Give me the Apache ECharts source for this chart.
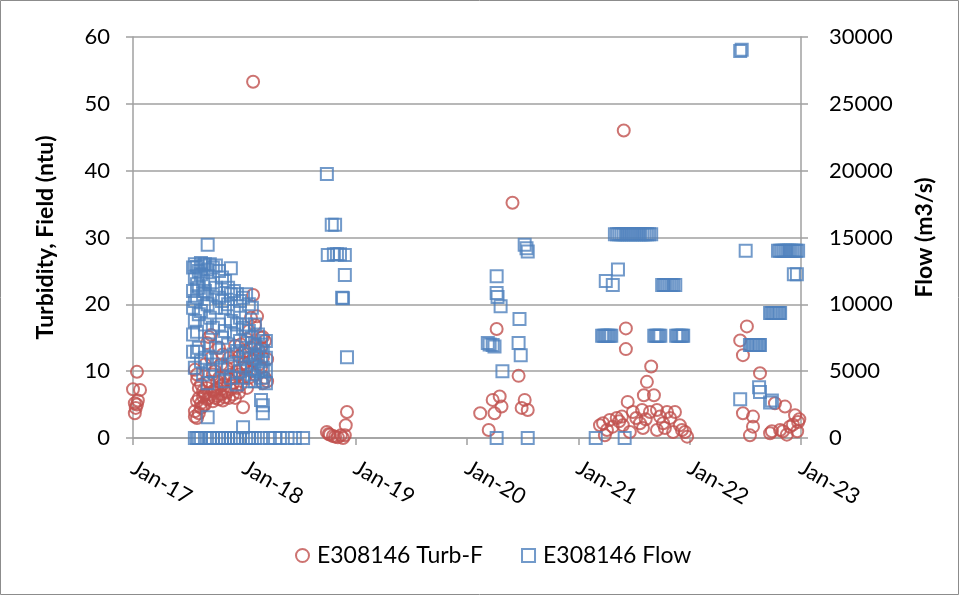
<!DOCTYPE html>
<html>
<head>
  <meta charset="utf-8">
  <title>E308146 Turbidity and Flow</title>
  <script src="https://cdn.jsdelivr.net/npm/echarts@6/dist/echarts.min.js"></script>
  <style>
    html, body { margin: 0; padding: 0; background: #fff; }
    #main { width: 961px; height: 596px; }
  </style>
</head>
<body>
<div id="main"></div>
<script>
// x tick labels (one per year)
var xLabels = ['Jan-17', 'Jan-18', 'Jan-19', 'Jan-20', 'Jan-21', 'Jan-22', 'Jan-23'];

// Turbidity, field (ntu)
var turbJan2017 = [
  ['2017-01-01', 7.3], ['2017-01-07', 5.2], ['2017-01-07', 3.7], ['2017-01-10', 4.5],
  ['2017-01-14', 9.9], ['2017-01-14', 5.0], ['2017-01-17', 5.6], ['2017-01-24', 7.2]
];
var turb2017 = [
  ['2017-07-23', 3.2], ['2017-07-23', 4.0], ['2017-07-23', 10.2],
  ['2017-07-30', 3.0], ['2017-07-30', 5.5], ['2017-07-30', 9.5], ['2017-07-30', 8.7],
  ['2017-08-05', 3.7], ['2017-08-05', 6.0], ['2017-08-05', 7.5],
  ['2017-08-12', 4.5], ['2017-08-12', 5.2], ['2017-08-12', 8.0],
  ['2017-08-19', 6.2], ['2017-08-19', 7.0], ['2017-08-19', 4.8],
  ['2017-08-25', 6.5], ['2017-08-25', 5.0], ['2017-08-25', 11.0],
  ['2017-09-01', 14.2], ['2017-09-01', 7.5], ['2017-09-01', 5.8],
  ['2017-09-07', 15.1], ['2017-09-07', 6.0], ['2017-09-07', 8.4],
  ['2017-09-14', 15.4], ['2017-09-14', 12.0], ['2017-09-14', 6.5],
  ['2017-09-20', 7.0], ['2017-09-20', 9.5], ['2017-09-20', 5.5],
  ['2017-09-27', 7.2], ['2017-09-27', 6.0], ['2017-09-27', 10.0],
  ['2017-10-04', 6.3], ['2017-10-04', 8.5], ['2017-10-04', 7.5],
  ['2017-10-10', 5.8], ['2017-10-10', 9.0], ['2017-10-10', 13.5],
  ['2017-10-17', 6.5], ['2017-10-17', 7.8], ['2017-10-17', 11.0],
  ['2017-10-23', 5.6], ['2017-10-23', 8.0], ['2017-10-23', 12.5],
  ['2017-10-30', 6.1], ['2017-10-30', 9.2], ['2017-10-30', 7.0],
  ['2017-11-05', 6.8], ['2017-11-05', 10.5],
  ['2017-11-12', 6.0], ['2017-11-12', 8.8], ['2017-11-12', 12.0],
  ['2017-11-18', 7.3], ['2017-11-18', 9.5],
  ['2017-11-25', 6.5], ['2017-11-25', 8.2], ['2017-11-25', 11.5],
  ['2017-12-02', 6.0], ['2017-12-02', 9.0], ['2017-12-02', 13.8],
  ['2017-12-08', 7.5], ['2017-12-08', 10.0],
  ['2017-12-15', 6.8], ['2017-12-15', 12.2], ['2017-12-15', 9.5],
  ['2017-12-21', 8.0], ['2017-12-21', 14.0],
  ['2017-12-28', 4.6], ['2017-12-28', 10.5], ['2017-12-28', 12.8],
  ['2018-01-03', 9.0], ['2018-01-03', 13.0], ['2018-01-03', 11.2],
  ['2018-01-10', 10.5], ['2018-01-10', 14.8], ['2018-01-10', 7.5],
  ['2018-01-16', 12.0], ['2018-01-16', 16.0], ['2018-01-16', 9.0],
  ['2018-01-23', 13.5], ['2018-01-23', 10.0], ['2018-01-23', 18.0],
  ['2018-01-30', 21.4], ['2018-01-30', 53.3], ['2018-01-30', 11.5],
  ['2018-02-05', 16.9], ['2018-02-05', 14.0], ['2018-02-05', 9.5],
  ['2018-02-12', 18.2], ['2018-02-12', 12.5],
  ['2018-02-18', 13.2], ['2018-02-18', 11.0],
  ['2018-02-25', 15.0], ['2018-02-25', 10.5], ['2018-02-25', 13.5],
  ['2018-03-03', 8.2], ['2018-03-03', 12.0], ['2018-03-03', 15.1],
  ['2018-03-10', 9.0], ['2018-03-10', 14.5],
  ['2018-03-17', 8.5], ['2018-03-17', 11.8]
];
var turb2018 = [
  ['2018-09-29', 0.9], ['2018-10-05', 0.6], ['2018-10-09', 0.5], ['2018-10-19', 0.3],
  ['2018-10-26', 0.2], ['2018-11-04', 0.1], ['2018-11-14', 0.4], ['2018-11-21', 0.0],
  ['2018-11-27', 0.4], ['2018-11-30', 1.9], ['2018-12-04', 3.9]
];
var turb2020 = [
  ['2020-02-14', 3.7], ['2020-03-13', 1.2], ['2020-03-26', 5.7], ['2020-04-01', 3.7],
  ['2020-04-08', 16.3], ['2020-04-18', 6.2], ['2020-04-24', 4.7], ['2020-05-30', 35.2],
  ['2020-06-19', 9.3], ['2020-06-29', 4.5], ['2020-07-09', 5.7], ['2020-07-19', 4.2]
];
var turb2021 = [
  ['2021-03-13', 1.9], ['2021-03-23', 2.2], ['2021-03-29', 0.4], ['2021-04-05', 1.2],
  ['2021-04-14', 2.7], ['2021-04-24', 1.7], ['2021-05-07', 3.0], ['2021-05-15', 2.5],
  ['2021-05-24', 3.2], ['2021-05-27', 1.9], ['2021-05-30', 46.0], ['2021-06-06', 16.4],
  ['2021-06-06', 13.3], ['2021-06-12', 5.4], ['2021-06-19', 0.9], ['2021-06-29', 3.9],
  ['2021-07-10', 3.0], ['2021-07-22', 2.2], ['2021-07-29', 4.2], ['2021-08-01', 1.5],
  ['2021-08-04', 6.4], ['2021-08-10', 2.8], ['2021-08-14', 8.4], ['2021-08-24', 3.9],
  ['2021-08-28', 10.7], ['2021-09-06', 6.4], ['2021-09-16', 4.2], ['2021-09-16', 1.2],
  ['2021-09-26', 3.2], ['2021-10-06', 2.2], ['2021-10-12', 1.5], ['2021-10-19', 3.9],
  ['2021-10-29', 3.0], ['2021-11-08', 0.9], ['2021-11-14', 3.9], ['2021-11-30', 1.9],
  ['2021-12-07', 1.2], ['2021-12-17', 0.9], ['2021-12-24', 0.2]
];
var turb2022 = [
  ['2022-06-16', 14.6], ['2022-06-25', 12.4], ['2022-06-25', 3.7], ['2022-07-08', 16.7],
  ['2022-07-18', 0.4], ['2022-07-28', 3.2], ['2022-07-28', 1.7], ['2022-08-20', 9.7],
  ['2022-09-22', 0.7], ['2022-09-28', 1.0], ['2022-10-08', 5.2], ['2022-10-25', 1.2],
  ['2022-11-03', 1.0], ['2022-11-10', 4.7], ['2022-11-16', 0.5], ['2022-11-26', 1.7],
  ['2022-12-06', 2.0], ['2022-12-13', 3.4], ['2022-12-20', 1.0], ['2022-12-23', 2.4],
  ['2022-12-27', 2.8]
];

// Flow (m3/s)
var flow2017 = [
  ['2017-07-17', 12750], ['2017-07-17', 11000], ['2017-07-17', 9750], ['2017-07-17', 7750], ['2017-07-17', 6450],
  ['2017-07-23', 13000], ['2017-07-23', 12000], ['2017-07-23', 10250], ['2017-07-23', 8750], ['2017-07-23', 5250], ['2017-07-23', 0],
  ['2017-07-30', 12800], ['2017-07-30', 11500], ['2017-07-30', 10500], ['2017-07-30', 7950], ['2017-07-30', 6450], ['2017-07-30', 0],
  ['2017-08-05', 12500], ['2017-08-05', 11250], ['2017-08-05', 9250], ['2017-08-05', 6750], ['2017-08-05', 0],
  ['2017-08-12', 13100], ['2017-08-12', 12250], ['2017-08-12', 9500], ['2017-08-12', 5750], ['2017-08-12', 0],
  ['2017-08-19', 12900], ['2017-08-19', 11750], ['2017-08-19', 10750], ['2017-08-19', 4750],
  ['2017-08-25', 13000], ['2017-08-25', 11000], ['2017-08-25', 8500], ['2017-08-25', 6000], ['2017-08-25', 0],
  ['2017-09-03', 14450], ['2017-09-03', 12600], ['2017-09-03', 10000], ['2017-09-03', 4100], ['2017-09-03', 1550],
  ['2017-09-10', 13000], ['2017-09-10', 11500], ['2017-09-10', 9000], ['2017-09-10', 7000], ['2017-09-10', 5000], ['2017-09-10', 0],
  ['2017-09-20', 12750], ['2017-09-20', 10750], ['2017-09-20', 8250], ['2017-09-20', 5500], ['2017-09-20', 0],
  ['2017-09-30', 12900], ['2017-09-30', 11250], ['2017-09-30', 9750], ['2017-09-30', 6750],
  ['2017-10-10', 12500], ['2017-10-10', 10500], ['2017-10-10', 8500], ['2017-10-10', 6000], ['2017-10-10', 0],
  ['2017-10-20', 12000], ['2017-10-20', 10250], ['2017-10-20', 7500], ['2017-10-20', 5250], ['2017-10-20', 0],
  ['2017-10-30', 11750], ['2017-10-30', 9750], ['2017-10-30', 8000], ['2017-10-30', 4250], ['2017-10-30', 0],
  ['2017-11-09', 11250], ['2017-11-09', 10000], ['2017-11-09', 7000], ['2017-11-09', 5500], ['2017-11-09', 0],
  ['2017-11-18', 12700], ['2017-11-18', 10750], ['2017-11-18', 8750], ['2017-11-18', 4500], ['2017-11-18', 0],
  ['2017-11-28', 11000], ['2017-11-28', 9500], ['2017-11-28', 7750], ['2017-11-28', 6250], ['2017-11-28', 0],
  ['2017-12-08', 10750], ['2017-12-08', 8500], ['2017-12-08', 6500], ['2017-12-08', 4000], ['2017-12-08', 0],
  ['2017-12-18', 10250], ['2017-12-18', 9000], ['2017-12-18', 7250], ['2017-12-18', 5000], ['2017-12-18', 0],
  ['2017-12-28', 10500], ['2017-12-28', 8250], ['2017-12-28', 6000], ['2017-12-28', 4500], ['2017-12-28', 800],
  ['2018-01-07', 10750], ['2018-01-07', 8500], ['2018-01-07', 6750], ['2018-01-07', 5250], ['2018-01-07', 0],
  ['2018-01-16', 10000], ['2018-01-16', 8000], ['2018-01-16', 6250], ['2018-01-16', 4250], ['2018-01-16', 0],
  ['2018-01-26', 9750], ['2018-01-26', 7500], ['2018-01-26', 5500], ['2018-01-26', 4750], ['2018-01-26', 0],
  ['2018-02-05', 8500], ['2018-02-05', 7000], ['2018-02-05', 6000], ['2018-02-05', 4250], ['2018-02-05', 0],
  ['2018-02-15', 7750], ['2018-02-15', 6250], ['2018-02-15', 5000],
  ['2018-02-25', 7000], ['2018-02-25', 5750], ['2018-02-25', 4500], ['2018-02-25', 2850], ['2018-02-25', 0],
  ['2018-03-03', 6500], ['2018-03-03', 5250], ['2018-03-03', 4250], ['2018-03-03', 1850], ['2018-03-03', 2450],
  ['2018-03-13', 7250], ['2018-03-13', 6000], ['2018-03-13', 5000], ['2018-03-13', 4100],
  ['2018-03-26', 0], ['2018-04-12', 0], ['2018-04-28', 0], ['2018-05-23', 0], ['2018-06-16', 0], ['2018-07-13', 0]
];
var flow2018 = [
  ['2018-09-29', 19750], ['2018-10-02', 13700], ['2018-10-15', 15950], ['2018-10-22', 13750],
  ['2018-10-26', 15950], ['2018-11-01', 13750], ['2018-11-11', 13750], ['2018-11-18', 10500],
  ['2018-11-21', 10450], ['2018-11-27', 13700], ['2018-11-27', 12200], ['2018-12-04', 6050]
];
var flow2020 = [
  ['2020-03-10', 7100], ['2020-03-16', 7000], ['2020-03-26', 6950], ['2020-04-01', 6850],
  ['2020-04-08', 12100], ['2020-04-08', 10850], ['2020-04-08', 0], ['2020-04-11', 10550],
  ['2020-04-21', 9850], ['2020-04-27', 5000], ['2020-06-19', 7100], ['2020-06-22', 8900],
  ['2020-06-26', 6200], ['2020-07-09', 14450], ['2020-07-15', 14200], ['2020-07-19', 13950],
  ['2020-07-19', 0]
];
var flow2021 = [
  ['2021-02-27', 0],
  ['2021-03-20', 7650], ['2021-03-25', 7650], ['2021-03-30', 7650], ['2021-04-04', 7650],
  ['2021-04-09', 7650], ['2021-04-14', 7650], ['2021-04-19', 7650],
  ['2021-04-01', 11750], ['2021-04-24', 11450], ['2021-05-11', 12600],
  ['2021-05-01', 15250], ['2021-05-08', 15250], ['2021-05-15', 15250], ['2021-05-22', 15250],
  ['2021-05-29', 15250], ['2021-06-05', 15250], ['2021-06-12', 15250], ['2021-06-19', 15250],
  ['2021-06-26', 15250], ['2021-07-03', 15250], ['2021-07-10', 15250], ['2021-07-17', 15250],
  ['2021-07-24', 15250], ['2021-07-31', 15250], ['2021-08-07', 15250], ['2021-08-14', 15250],
  ['2021-08-21', 15250], ['2021-08-28', 15250],
  ['2021-06-02', 0],
  ['2021-09-07', 7650], ['2021-09-12', 7650], ['2021-09-17', 7650], ['2021-09-22', 7650], ['2021-09-27', 7650],
  ['2021-10-03', 11450], ['2021-10-09', 11450], ['2021-10-15', 11450], ['2021-10-21', 11450],
  ['2021-10-27', 11450], ['2021-11-02', 11450], ['2021-11-08', 11450], ['2021-11-15', 11450],
  ['2021-11-18', 7650], ['2021-11-23', 7650], ['2021-11-28', 7650], ['2021-12-03', 7650],
  ['2021-12-08', 7650], ['2021-12-11', 7650]
];
var flow2022 = [
  ['2022-06-16', 28950], ['2022-06-21', 29050], ['2022-06-16', 2900], ['2022-07-04', 14000],
  ['2022-07-18', 6950], ['2022-07-23', 6950], ['2022-07-28', 6950], ['2022-08-02', 6950],
  ['2022-08-07', 6950], ['2022-08-12', 6950], ['2022-08-17', 6950], ['2022-08-20', 6950],
  ['2022-08-17', 3800], ['2022-08-20', 3450], ['2022-09-22', 2650], ['2022-09-28', 2800],
  ['2022-09-22', 9350], ['2022-09-27', 9350], ['2022-10-02', 9350], ['2022-10-07', 9350],
  ['2022-10-12', 9350], ['2022-10-17', 9350], ['2022-10-22', 9350], ['2022-10-25', 9350],
  ['2022-10-18', 14000], ['2022-10-24', 14000], ['2022-10-30', 14000], ['2022-11-05', 14000],
  ['2022-11-11', 14000], ['2022-11-17', 14000], ['2022-11-23', 14000], ['2022-11-29', 14000],
  ['2022-12-05', 14000], ['2022-12-11', 14000], ['2022-12-17', 14000], ['2022-12-23', 14000],
  ['2022-12-09', 12250], ['2022-12-19', 12250]
];

var t0 = Date.UTC(2017, 0, 1);
function toDays(list) {
  return list.map(function (p) {
    return [(Date.parse(p[0]) - t0) / 86400000, p[1]];
  });
}

var turbData = toDays([].concat(turbJan2017, turb2017, turb2018, turb2020, turb2021, turb2022));
var flowData = toDays([].concat(flow2017, flow2018, flow2020, flow2021, flow2022));

var RED = '#C0504D', BLUE = '#4F81BD', GRID = '#A0A0A0';
var FONT = 'Lato';

var myChart = echarts.init(document.getElementById('main'));
var option = {
  backgroundColor: '#fff',
  animation: false,
  textStyle: { fontFamily: FONT },
  graphic: [{
    type: 'rect',
    shape: { x: 0.5, y: 0.5, width: 958, height: 594 },
    style: { fill: 'none', stroke: '#8c8c8c', lineWidth: 1 },
    silent: true
  }],
  grid: { left: 133, right: 160, top: 37, bottom: 158 },
  legend: {
    bottom: 24,
    left: 290,
    itemGap: 38,
    itemWidth: 13,
    itemHeight: 13,
    textStyle: { fontFamily: FONT, fontSize: 23, color: '#000', padding: [0, 0, 0, 3] },
    data: [
      { name: 'E308146 Turb-F', icon: 'circle', itemStyle: { color: 'rgba(0,0,0,0)', borderColor: RED, borderWidth: 2 } },
      { name: 'E308146 Flow', icon: 'rect', itemStyle: { color: 'rgba(0,0,0,0)', borderColor: BLUE, borderWidth: 2 } }
    ]
  },
  xAxis: {
    type: 'value',
    min: 0,
    max: 2191.5,
    interval: 365.25,
    splitLine: { show: false },
    axisLine: { show: true, lineStyle: { color: GRID, width: 1.5 } },
    axisTick: { show: true, length: 7, lineStyle: { color: GRID, width: 1.5 } },
    axisLabel: {
      rotate: -30,
      margin: 28,
      fontFamily: FONT,
      fontSize: 22,
      color: '#000',
      formatter: function (v) { return xLabels[Math.round(v / 365.25)]; }
    }
  },
  yAxis: [{
    type: 'value',
    min: 0,
    max: 60,
    interval: 10,
    name: 'Turbidity, Field (ntu)',
    nameLocation: 'middle',
    nameGap: 76,
    nameTextStyle: { fontFamily: FONT, fontSize: 23, fontWeight: 'bold', color: '#000' },
    axisLine: { show: true, lineStyle: { color: GRID, width: 1.5 } },
    axisTick: { show: true, length: 7, lineStyle: { color: GRID, width: 1.5 } },
    axisLabel: { margin: 23, fontFamily: FONT, fontSize: 22, color: '#000' },
    splitLine: { show: true, lineStyle: { color: GRID, width: 1.5 } }
  }, {
    type: 'value',
    min: 0,
    max: 30000,
    interval: 5000,
    position: 'right',
    name: 'Flow (m3/s)',
    nameLocation: 'middle',
    nameGap: 112,
    nameRotate: 90,
    nameTextStyle: { fontFamily: FONT, fontSize: 23, fontWeight: 'bold', color: '#000' },
    axisLine: { show: true, lineStyle: { color: GRID, width: 1.5 } },
    axisTick: { show: true, length: 7, lineStyle: { color: GRID, width: 1.5 } },
    axisLabel: {
      margin: 28, fontFamily: FONT, fontSize: 22, color: '#000',
      formatter: function (v) { return String(v); }
    },
    splitLine: { show: false }
  }],
  series: [{
    name: 'E308146 Turb-F',
    type: 'scatter',
    yAxisIndex: 0,
    symbol: 'circle',
    symbolSize: 12,
    itemStyle: { color: 'rgba(0,0,0,0)', borderColor: RED, borderWidth: 2 },
    data: turbData
  }, {
    name: 'E308146 Flow',
    type: 'scatter',
    yAxisIndex: 1,
    symbol: 'rect',
    symbolSize: 12,
    itemStyle: { color: 'rgba(0,0,0,0)', borderColor: BLUE, borderWidth: 2 },
    data: flowData
  }]
};
myChart.setOption(option);
</script>
</body>
</html>
